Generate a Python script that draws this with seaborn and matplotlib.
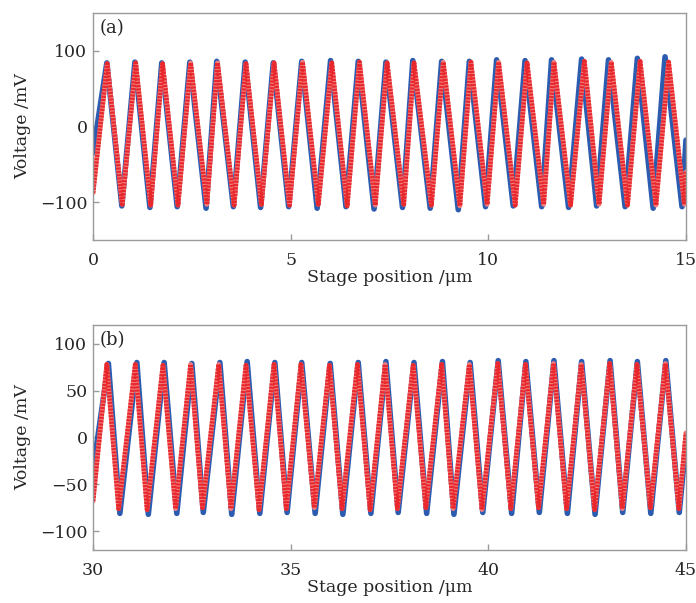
import matplotlib
matplotlib.use("Agg")
import matplotlib.pyplot as plt
import seaborn as sns
import pandas as pd

# Panel (a): extrema (x in um, y in mV)
a_blue_peak_x = [0.35, 1.06, 1.74, 2.45, 3.13, 3.85, 4.56, 5.28, 6.01, 6.71, 7.41,
                 8.09, 8.82, 9.52, 10.21, 10.93, 11.60, 12.36, 13.04, 13.77, 14.47]
a_blue_peak_y = [84, 85, 84, 85, 86, 85, 84, 86, 87, 86, 85,
                 87, 86, 86, 88, 87, 88, 89, 88, 90, 92]
a_blue_trough_x = [0.73, 1.44, 2.13, 2.86, 3.55, 4.24, 4.95, 5.67, 6.40, 7.11, 7.83,
                   8.53, 9.24, 9.93, 10.63, 11.35, 12.03, 12.74, 13.46, 14.17, 14.90]
a_blue_trough_y = [-105, -107, -106, -108, -106, -107, -106, -108, -106, -109, -107,
                   -108, -110, -106, -105, -106, -107, -105, -106, -108, -106]
a_blue_ends = [(0.0, -35), (15.0, -18)]

a_red_peak_x = [0.36, 1.08, 1.76, 2.47, 3.15, 3.87, 4.58, 5.30, 6.04, 6.74, 7.44,
                8.12, 8.86, 9.56, 10.26, 10.98, 11.66, 12.43, 13.11, 13.84, 14.56]
a_red_peak_y = [83, 84, 83, 84, 84, 83, 84, 85, 84, 85, 84,
                84, 85, 85, 85, 84, 85, 86, 85, 86, 85]
a_red_trough_x = [0.74, 1.46, 2.15, 2.88, 3.57, 4.26, 4.97, 5.70, 6.43, 7.14, 7.86,
                  8.56, 9.28, 9.97, 10.68, 11.40, 12.08, 12.80, 13.52, 14.24, 14.96]
a_red_trough_y = [-103, -104, -104, -103, -104, -103, -104, -103, -105, -104, -103,
                  -104, -105, -103, -104, -103, -104, -103, -104, -104, -103]
a_red_ends = [(0.0, -88), (15.0, -60)]

# Panel (b)
b_blue_peak_x = [30.39, 31.11, 31.80, 32.50, 33.21, 33.90, 34.60, 35.28, 36.00, 36.71, 37.41,
                 38.12, 38.84, 39.54, 40.25, 40.95, 41.66, 42.36, 43.08, 43.77, 44.49]
b_blue_peak_y = [79, 80, 80, 79, 80, 81, 80, 80, 79, 80, 81,
                 80, 81, 80, 82, 81, 82, 81, 82, 81, 82]
b_blue_trough_x = [30.68, 31.40, 32.12, 32.79, 33.51, 34.22, 34.91, 35.62, 36.32, 37.03, 37.72,
                   38.44, 39.13, 39.86, 40.59, 41.29, 42.00, 42.70, 43.40, 44.11, 44.83]
b_blue_trough_y = [-81, -82, -81, -80, -82, -81, -80, -81, -82, -81, -80,
                   -81, -82, -80, -81, -80, -81, -82, -80, -81, -80]
b_blue_ends = [(30.0, -35), (45.0, -5)]

b_red_peak_x = [30.35, 31.07, 31.77, 32.47, 33.18, 33.87, 34.58, 35.26, 35.98, 36.69, 37.39,
                38.10, 38.82, 39.52, 40.24, 40.94, 41.65, 42.35, 43.07, 43.76, 44.48]
b_red_peak_y = [78, 78, 77, 78, 78, 77, 78, 78, 77, 78, 78,
                77, 78, 78, 79, 78, 79, 78, 79, 78, 79]
b_red_trough_x = [30.65, 31.37, 32.09, 32.77, 33.49, 34.20, 34.89, 35.60, 36.30, 37.01, 37.70,
                  38.42, 39.11, 39.84, 40.57, 41.27, 41.98, 42.69, 43.39, 44.10, 44.82]
b_red_trough_y = [-76, -77, -76, -75, -76, -77, -76, -75, -76, -77, -76,
                  -75, -76, -77, -76, -75, -76, -77, -76, -75, -76]
b_red_ends = [(30.0, -68), (45.0, 5)]

BLUE = "#2c5cb0"
RED = "#e8282c"
RED_LIGHT = "#f27c7c"
GRAY = "#9a9a9a"


def trace(px, py, tx, ty, ends):
    xs = list(px) + list(tx) + [e[0] for e in ends]
    ys = list(py) + list(ty) + [e[1] for e in ends]
    return pd.DataFrame({"x": xs, "y": ys}).sort_values("x")


sns.set_style("white")
plt.rcParams["font.family"] = ["DejaVu Serif"]
plt.rcParams["lines.solid_joinstyle"] = "round"
plt.rcParams["lines.dash_joinstyle"] = "round"

fig = plt.figure(figsize=(6.96, 6.03), dpi=100)
ax_a = fig.add_axes([0.1336, 0.602, 0.852, 0.3766])
ax_b = fig.add_axes([0.1336, 0.088, 0.852, 0.373])

panels = [
    (ax_a, "(a)", (0, 15), (-150, 150), [0, 5, 10, 15], [-100, 0, 100],
     trace(a_blue_peak_x, a_blue_peak_y, a_blue_trough_x, a_blue_trough_y, a_blue_ends),
     trace(a_red_peak_x, a_red_peak_y, a_red_trough_x, a_red_trough_y, a_red_ends)),
    (ax_b, "(b)", (30, 45), (-120, 120), [30, 35, 40, 45], [-100, -50, 0, 50, 100],
     trace(b_blue_peak_x, b_blue_peak_y, b_blue_trough_x, b_blue_trough_y, b_blue_ends),
     trace(b_red_peak_x, b_red_peak_y, b_red_trough_x, b_red_trough_y, b_red_ends)),
]

for ax, tag, xlim, ylim, xt, yt, blue, red in panels:
    sns.lineplot(data=blue, x="x", y="y", ax=ax, color=BLUE, linewidth=4.0, sort=False)
    sns.lineplot(data=red, x="x", y="y", ax=ax, color=RED_LIGHT, linewidth=3.4, sort=False)
    sns.lineplot(data=red, x="x", y="y", ax=ax, color=RED, linewidth=3.4, sort=False,
                 linestyle=(0, (0.45, 0.25)))
    ax.set_xlim(*xlim)
    ax.set_ylim(*ylim)
    ax.set_xticks(xt)
    ax.set_yticks(yt)
    ax.set_xticklabels([str(v) for v in xt])
    ax.set_yticklabels([str(v).replace("-", "\u2212") for v in yt])
    ax.tick_params(direction="in", length=4, width=1, color=GRAY, labelsize=12.5,
                   bottom=True, left=True)
    ax.tick_params(axis="x", pad=9)
    ax.tick_params(axis="y", pad=4)
    for s in ax.spines.values():
        s.set_color(GRAY)
        s.set_linewidth(1)
    ax.set_xlabel("Stage position /\u03bcm", fontsize=12.5, labelpad=0)
    ax.set_ylabel("Voltage /mV", fontsize=12.5, labelpad=6)
    ax.text(0.012, 0.975, tag, transform=ax.transAxes, fontsize=13, va="top", ha="left")

fig.savefig("out.png", dpi=100)
